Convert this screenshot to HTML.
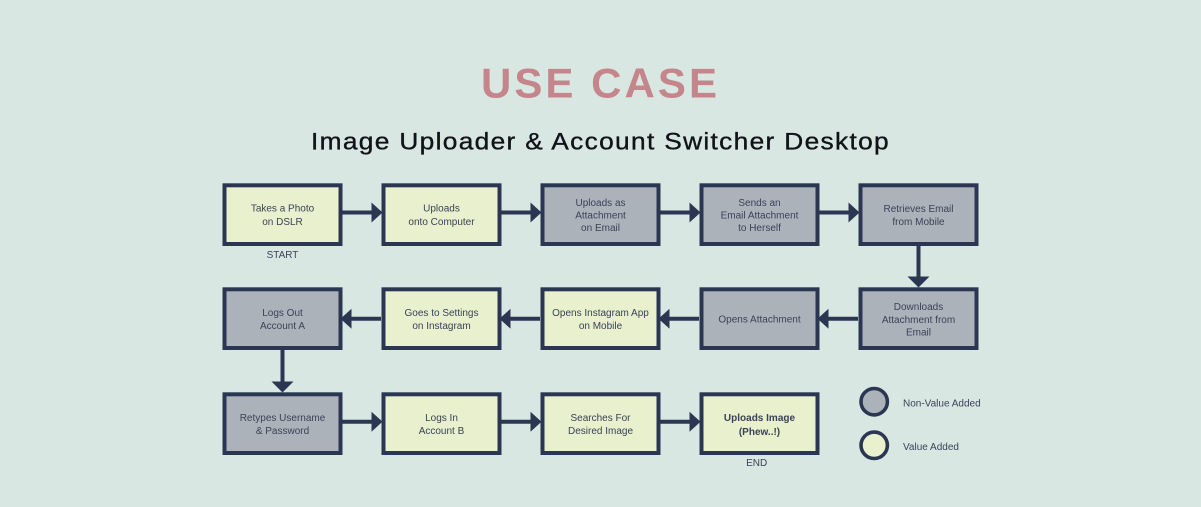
<!DOCTYPE html>
<html><head><meta charset="utf-8"><style>
html,body{margin:0;padding:0;background:#d9e7e3;}
svg{display:block;}
.t{font-family:"Liberation Sans",Arial,sans-serif;font-size:10px;fill:#3b4257;text-anchor:middle;}
.l{font-family:"Liberation Sans",Arial,sans-serif;font-size:10px;fill:#3b4257;}
</style></head><body>
<svg width="1201" height="507" viewBox="0 0 1201 507" xmlns="http://www.w3.org/2000/svg">
<rect x="0" y="0" width="1201" height="507" fill="#d9e7e3"/>
<text x="481" y="97.5" textLength="236" lengthAdjust="spacing" font-family="Liberation Sans, Arial, sans-serif" font-weight="bold" font-size="42" fill="#c4868a">USE CASE</text>
<text x="311" y="149.5" textLength="579" lengthAdjust="spacingAndGlyphs" letter-spacing="1.2" font-family="Liberation Sans, Arial, sans-serif" font-size="24" fill="#111318" stroke="#111318" stroke-width="0.35">Image Uploader &amp; Account Switcher Desktop</text>

<g stroke="#2b3752" stroke-width="4">
<!-- row1 -->
<rect x="224.5" y="185.3" width="116" height="58.7" fill="#e8f0ce"/>
<rect x="383.5" y="185.3" width="116" height="58.7" fill="#e8f0ce"/>
<rect x="542.5" y="185.3" width="116" height="58.7" fill="#acb2ba"/>
<rect x="701.5" y="185.3" width="116" height="58.7" fill="#acb2ba"/>
<rect x="860.5" y="185.3" width="116" height="58.7" fill="#acb2ba"/>
<!-- row2 -->
<rect x="224.5" y="289.3" width="116" height="58.7" fill="#acb2ba"/>
<rect x="383.5" y="289.3" width="116" height="58.7" fill="#e8f0ce"/>
<rect x="542.5" y="289.3" width="116" height="58.7" fill="#e8f0ce"/>
<rect x="701.5" y="289.3" width="116" height="58.7" fill="#acb2ba"/>
<rect x="860.5" y="289.3" width="116" height="58.7" fill="#acb2ba"/>
<!-- row3 -->
<rect x="224.5" y="394.3" width="116" height="58.7" fill="#acb2ba"/>
<rect x="383.5" y="394.3" width="116" height="58.7" fill="#e8f0ce"/>
<rect x="542.5" y="394.3" width="116" height="58.7" fill="#e8f0ce"/>
<rect x="701.5" y="394.3" width="116" height="58.7" fill="#e8f0ce"/>
<!-- connector lines -->
<line x1="342" y1="212.5" x2="374" y2="212.5"/>
<line x1="501" y1="212.5" x2="533" y2="212.5"/>
<line x1="660" y1="212.5" x2="692" y2="212.5"/>
<line x1="819" y1="212.5" x2="851" y2="212.5"/>
<line x1="918.5" y1="246" x2="918.5" y2="279"/>
<line x1="858" y1="318.7" x2="826" y2="318.7"/>
<line x1="699" y1="318.7" x2="667" y2="318.7"/>
<line x1="540" y1="318.7" x2="508" y2="318.7"/>
<line x1="381" y1="318.7" x2="349" y2="318.7"/>
<line x1="282.5" y1="350" x2="282.5" y2="384"/>
<line x1="342" y1="421.7" x2="374" y2="421.7"/>
<line x1="501" y1="421.7" x2="533" y2="421.7"/>
<line x1="660" y1="421.7" x2="692" y2="421.7"/>
<circle cx="874.2" cy="401.7" r="13.2" fill="#acb2ba" stroke-width="3.6"/>
<circle cx="874.2" cy="445.3" r="13.2" fill="#e8f0ce" stroke-width="3.6"/>
</g>
<g fill="#2b3752">
<polygon points="371.5,202.5 382.5,212.5 371.5,222.5"/>
<polygon points="530.5,202.5 541.5,212.5 530.5,222.5"/>
<polygon points="689.5,202.5 700.5,212.5 689.5,222.5"/>
<polygon points="848.5,202.5 859.5,212.5 848.5,222.5"/>
<polygon points="907.5,276.5 918.5,287.5 929.5,276.5"/>
<polygon points="828.5,308.7 817.5,318.7 828.5,328.7"/>
<polygon points="669.5,308.7 658.5,318.7 669.5,328.7"/>
<polygon points="510.5,308.7 499.5,318.7 510.5,328.7"/>
<polygon points="351.5,308.7 340.5,318.7 351.5,328.7"/>
<polygon points="271.5,381.5 282.5,392.5 293.5,381.5"/>
<polygon points="371.5,411.7 382.5,421.7 371.5,431.7"/>
<polygon points="530.5,411.7 541.5,421.7 530.5,431.7"/>
<polygon points="689.5,411.7 700.5,421.7 689.5,431.7"/>
</g>

<!-- row1 text -->
<text class="t" x="282.5" y="211.5">Takes a Photo</text>
<text class="t" x="282.5" y="225.2">on DSLR</text>
<text class="t" x="441.5" y="211.5">Uploads</text>
<text class="t" x="441.5" y="225.2">onto Computer</text>
<text class="t" x="600.5" y="206.2">Uploads as</text>
<text class="t" x="600.5" y="218.7">Attachment</text>
<text class="t" x="600.5" y="231.2">on Email</text>
<text class="t" x="759.5" y="206">Sends an</text>
<text class="t" x="759.5" y="218.3">Email Attachment</text>
<text class="t" x="759.5" y="231">to Herself</text>
<text class="t" x="918.5" y="211.8">Retrieves Email</text>
<text class="t" x="918.5" y="225.2">from Mobile</text>
<text class="t" x="282.5" y="258">START</text>
<!-- row2 text -->
<text class="t" x="282.5" y="315.8">Logs Out</text>
<text class="t" x="282.5" y="328.8">Account A</text>
<text class="t" x="441.5" y="315.8">Goes to Settings</text>
<text class="t" x="441.5" y="328.8">on Instagram</text>
<text class="t" x="600.5" y="315.8">Opens Instagram App</text>
<text class="t" x="600.5" y="328.8">on Mobile</text>
<text class="t" x="759.5" y="322.5">Opens Attachment</text>
<text class="t" x="918.5" y="310.2">Downloads</text>
<text class="t" x="918.5" y="322.8">Attachment from</text>
<text class="t" x="918.5" y="335.5">Email</text>
<!-- row3 text -->
<text class="t" x="282.5" y="420.8">Retypes Username</text>
<text class="t" x="282.5" y="434.2">&amp; Password</text>
<text class="t" x="441.5" y="420.8">Logs In</text>
<text class="t" x="441.5" y="434.2">Account B</text>
<text class="t" x="600.5" y="420.8">Searches For</text>
<text class="t" x="600.5" y="434.2">Desired Image</text>
<text class="t" x="759.5" y="421.2" font-weight="bold">Uploads Image</text>
<text class="t" x="759.5" y="435.2" font-weight="bold">(Phew..!)</text>
<text class="t" x="756.7" y="466">END</text>
<!-- legend -->
<text class="l" x="903" y="406.5">Non-Value Added</text>
<text class="l" x="903" y="449.8">Value Added</text>
</svg>
</body></html>
